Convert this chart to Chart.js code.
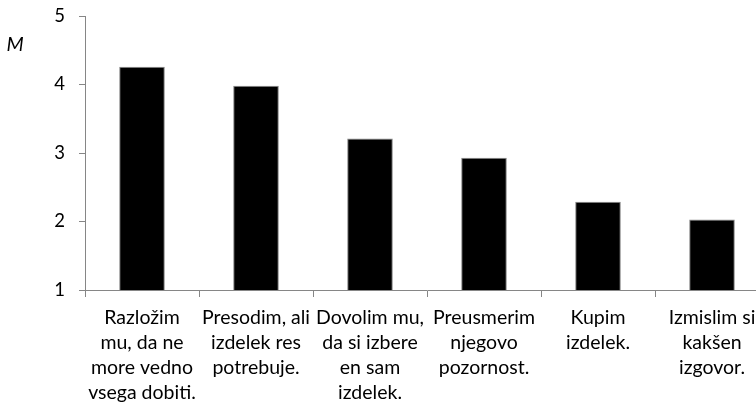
<!DOCTYPE html>
<html>
<head>
<meta charset="utf-8">
<script src="https://cdn.jsdelivr.net/npm/chart.js@4"></script>
<style>
  html, body { margin: 0; padding: 0; background: #fff; overflow: hidden; width: 756px; height: 406px; }
  #chart { display: block; }
</style>
</head>
<body>
<canvas id="chart" width="790" height="406"></canvas>
<script>
const categories = [
    ["Razložim", "mu, da ne", "more vedno", "vsega dobiti."],
    ["Presodim, ali", "izdelek res", "potrebuje."],
    ["Dovolim mu,", "da si izbere", "en sam", "izdelek."],
    ["Preusmerim", "njegovo", "pozornost."],
    ["Kupim", "izdelek."],
    ["Izmislim si", "kakšen", "izgovor."]
];
const means = [4.26, 3.98, 3.21, 2.93, 2.29, 2.03];
const yTicks = [1, 2, 3, 4, 5];
const axisLabel = "M";

const axisGrey = "#868686";
const xFont = {family: "Lato", size: 19.5, lineHeight: "25px"};
const yFont = {family: "Lato", size: 18.5};

// italic "M" next to the value axis
const axisLabelPlugin = {
    id: "axisLabel",
    afterDraw(chart) {
        const ctx = chart.ctx;
        ctx.save();
        ctx.font = "italic 20px Lato";
        ctx.fillStyle = "#000";
        ctx.textAlign = "center";
        ctx.textBaseline = "middle";
        ctx.fillText(axisLabel, 15, 45);
        ctx.restore();
    }
};

function drawChart() {
    const ctx = document.getElementById("chart").getContext("2d");
    new Chart(ctx, {
        type: "bar",
        data: {
            labels: categories,
            datasets: [{
                data: means,
                backgroundColor: "#000",
                borderColor: axisGrey,
                borderWidth: 1,
                barPercentage: 0.4,
                categoryPercentage: 1.0
            }]
        },
        options: {
            responsive: false,
            animation: false,
            devicePixelRatio: 1,
            layout: {padding: {top: 0, right: 21, left: 0, bottom: 0}},
            plugins: {legend: {display: false}, tooltip: {enabled: false}},
            scales: {
                x: {
                    grid: {display: true, drawOnChartArea: false, drawTicks: true, tickLength: 7, color: axisGrey, offset: true},
                    border: {color: axisGrey, width: 1},
                    ticks: {color: "#000", font: xFont, maxRotation: 0, autoSkip: false, padding: 8},
                    afterFit(scale) { scale.height = 116; }
                },
                y: {
                    min: 1,
                    max: 5,
                    afterBuildTicks(scale) { scale.ticks = yTicks.map(v => ({value: v})); },
                    grid: {display: true, drawOnChartArea: false, drawTicks: true, tickLength: 6, color: axisGrey},
                    border: {color: axisGrey, width: 1},
                    ticks: {color: "#000", font: yFont, padding: 14},
                    afterFit(scale) {
                        scale.width = 85;
                        scale.paddingTop = 16;
                    }
                }
            }
        },
        plugins: [axisLabelPlugin]
    });
}

document.addEventListener("DOMContentLoaded", drawChart);
</script>
</body>
</html>
